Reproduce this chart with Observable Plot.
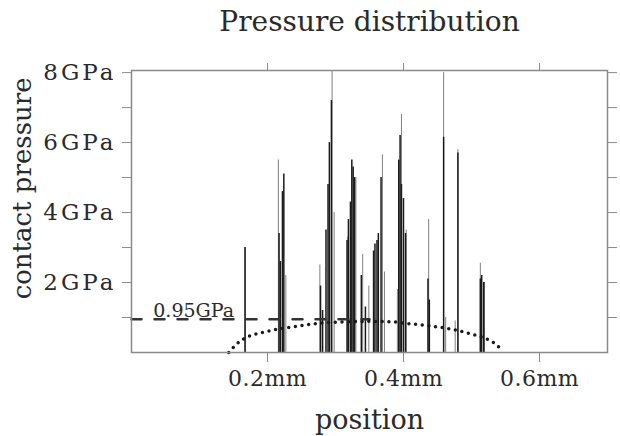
<!DOCTYPE html>
<html>
<head>
<meta charset="utf-8">
<script src="https://cdn.jsdelivr.net/npm/d3@7"></script>
<script src="https://cdn.jsdelivr.net/npm/@observablehq/plot@0.6"></script>
<style>
  html, body { margin: 0; padding: 0; background: #fff; }
  #chart g[aria-label="y-axis tick label"] text { letter-spacing: 3px; }
  #chart g[aria-label="x-axis tick label"] text { letter-spacing: 0.5px; }
</style>
</head>
<body>
<div id="chart"></div>
<script>
// Thin gray spike lines (position in mm, contact pressure in GPa)
const grayX = [0.167, 0.216, 0.227, 0.277, 0.295, 0.298, 0.318, 0.330, 0.340, 0.349, 0.369, 0.372, 0.391, 0.397, 0.404, 0.437, 0.459, 0.462, 0.476, 0.480, 0.513, 0.519];
const grayP = [3.0, 5.5, 2.2, 2.5, 8.05, 4.0, 3.3, 5.0, 2.8, 1.9, 5.65, 2.3, 1.8, 6.8, 3.5, 3.8, 8.0, 1.0, 0.9, 5.8, 2.55, 2.0];

// Dark spike bodies
const darkX = [0.167, 0.217, 0.219, 0.222, 0.224, 0.278, 0.281, 0.286, 0.289, 0.291, 0.294, 0.317, 0.319, 0.322, 0.324, 0.326, 0.328, 0.338, 0.344, 0.356, 0.358, 0.361, 0.363, 0.367, 0.393, 0.395, 0.397, 0.400, 0.403, 0.436, 0.438, 0.459, 0.480, 0.513, 0.515, 0.518];
const darkP = [3.0, 3.4, 2.6, 4.6, 5.1, 1.9, 1.2, 3.5, 4.8, 6.0, 7.2, 3.2, 3.8, 4.3, 5.5, 5.3, 5.0, 2.2, 1.3, 2.9, 3.1, 3.2, 3.4, 5.0, 5.5, 6.2, 4.8, 4.4, 3.4, 2.1, 1.5, 6.15, 5.7, 2.1, 2.2, 2.0];

// Hertzian (dotted) pressure curve
const hertzX = [0.143, 0.150, 0.160, 0.170, 0.194, 0.219, 0.243, 0.268, 0.292, 0.320, 0.350, 0.380, 0.405, 0.430, 0.454, 0.479, 0.503, 0.515, 0.527, 0.538, 0.546];
const hertzP = [0.0, 0.15, 0.33, 0.44, 0.58, 0.68, 0.75, 0.82, 0.86, 0.88, 0.89, 0.88, 0.83, 0.78, 0.72, 0.63, 0.51, 0.44, 0.34, 0.20, 0.03];

// Dashed reference level
const refX = [0.0, 0.35];
const refP = [0.95, 0.95];
const refLabel = "0.95GPa";

const yMajorTicks = [2, 4, 6, 8];
const yMinorTicks = [1, 3, 5, 7];
const yAllTicks = [1, 2, 3, 4, 5, 6, 7, 8];
const xTicks = [0.2, 0.4, 0.6];

const title = "Pressure distribution";
const xLabel = "position";
const yLabel = "contact pressure";

const gray = grayX.map((x, i) => ({x, p: grayP[i]}));
const dark = darkX.map((x, i) => ({x, p: darkP[i]}));
const hertz = hertzX.map((x, i) => ({x, p: hertzP[i]}));
const ref = refX.map((x, i) => ({x, p: refP[i]}));

const font = "DejaVu Serif";
const ink = "#2a2a2a";
const tickColor = "#8a8a8a";

const chart = Plot.plot({
  width: 620,
  height: 436,
  marginLeft: 131,
  marginRight: 13,
  marginTop: 70,
  marginBottom: 84,
  style: {fontFamily: font, color: ink, background: "#fff"},
  x: {domain: [0, 0.7]},
  y: {domain: [0, 8.06]},
  marks: [
    Plot.ruleX(gray, {x: "x", y1: 0, y2: "p", stroke: "#808080", strokeWidth: 1}),
    Plot.ruleX(dark, {x: "x", y1: 0, y2: "p", stroke: "#1a1a1a", strokeWidth: 1.5}),
    Plot.line(ref, {x: "x", y: "p", stroke: "#333", strokeWidth: 2.5, strokeDasharray: "10,13"}),
    Plot.line(hertz, {x: "x", y: "p", stroke: "#1a1a1a", strokeWidth: 3.5, strokeDasharray: "0,6.7", strokeLinecap: "round", curve: "monotone-x"}),
    Plot.text([refLabel], {x: 0.032, y: 0.95, text: d => d, textAnchor: "start", lineAnchor: "bottom", dy: -2, fontSize: 19, fill: ink}),
    Plot.frame({stroke: "#8a8a8a", strokeWidth: 1.5}),
    Plot.axisY(yMajorTicks, {anchor: "left", tickSize: 9, tickPadding: 6, tickFormat: d => d + "GPa", label: null, fontSize: 23, stroke: tickColor, fill: ink}),
    Plot.axisY(yMinorTicks, {anchor: "left", tickSize: 9, tickFormat: () => "", label: null, stroke: tickColor}),
    Plot.axisY(yAllTicks, {anchor: "right", tickSize: 9, tickFormat: () => "", label: null, stroke: tickColor}),
    Plot.axisX(xTicks, {anchor: "bottom", tickSize: 10, tickPadding: 8, tickFormat: d => d.toFixed(1) + "mm", label: null, fontSize: 22, stroke: tickColor, fill: ink}),
    Plot.axisX(xTicks, {anchor: "top", tickSize: 8, tickFormat: () => "", label: null, stroke: tickColor}),
    Plot.text([title], {frameAnchor: "top", text: d => d, dy: -48, lineAnchor: "middle", fontSize: 28, fill: ink}),
    Plot.text([xLabel], {frameAnchor: "bottom", text: d => d, dy: 68, lineAnchor: "middle", fontSize: 27, fill: ink}),
    Plot.text([yLabel], {frameAnchor: "left", y: [4.69], text: d => d, dx: -109, rotate: -90, textAnchor: "middle", lineAnchor: "middle", fontSize: 26, fill: ink})
  ]
});
document.getElementById("chart").appendChild(chart);
</script>
</body>
</html>
